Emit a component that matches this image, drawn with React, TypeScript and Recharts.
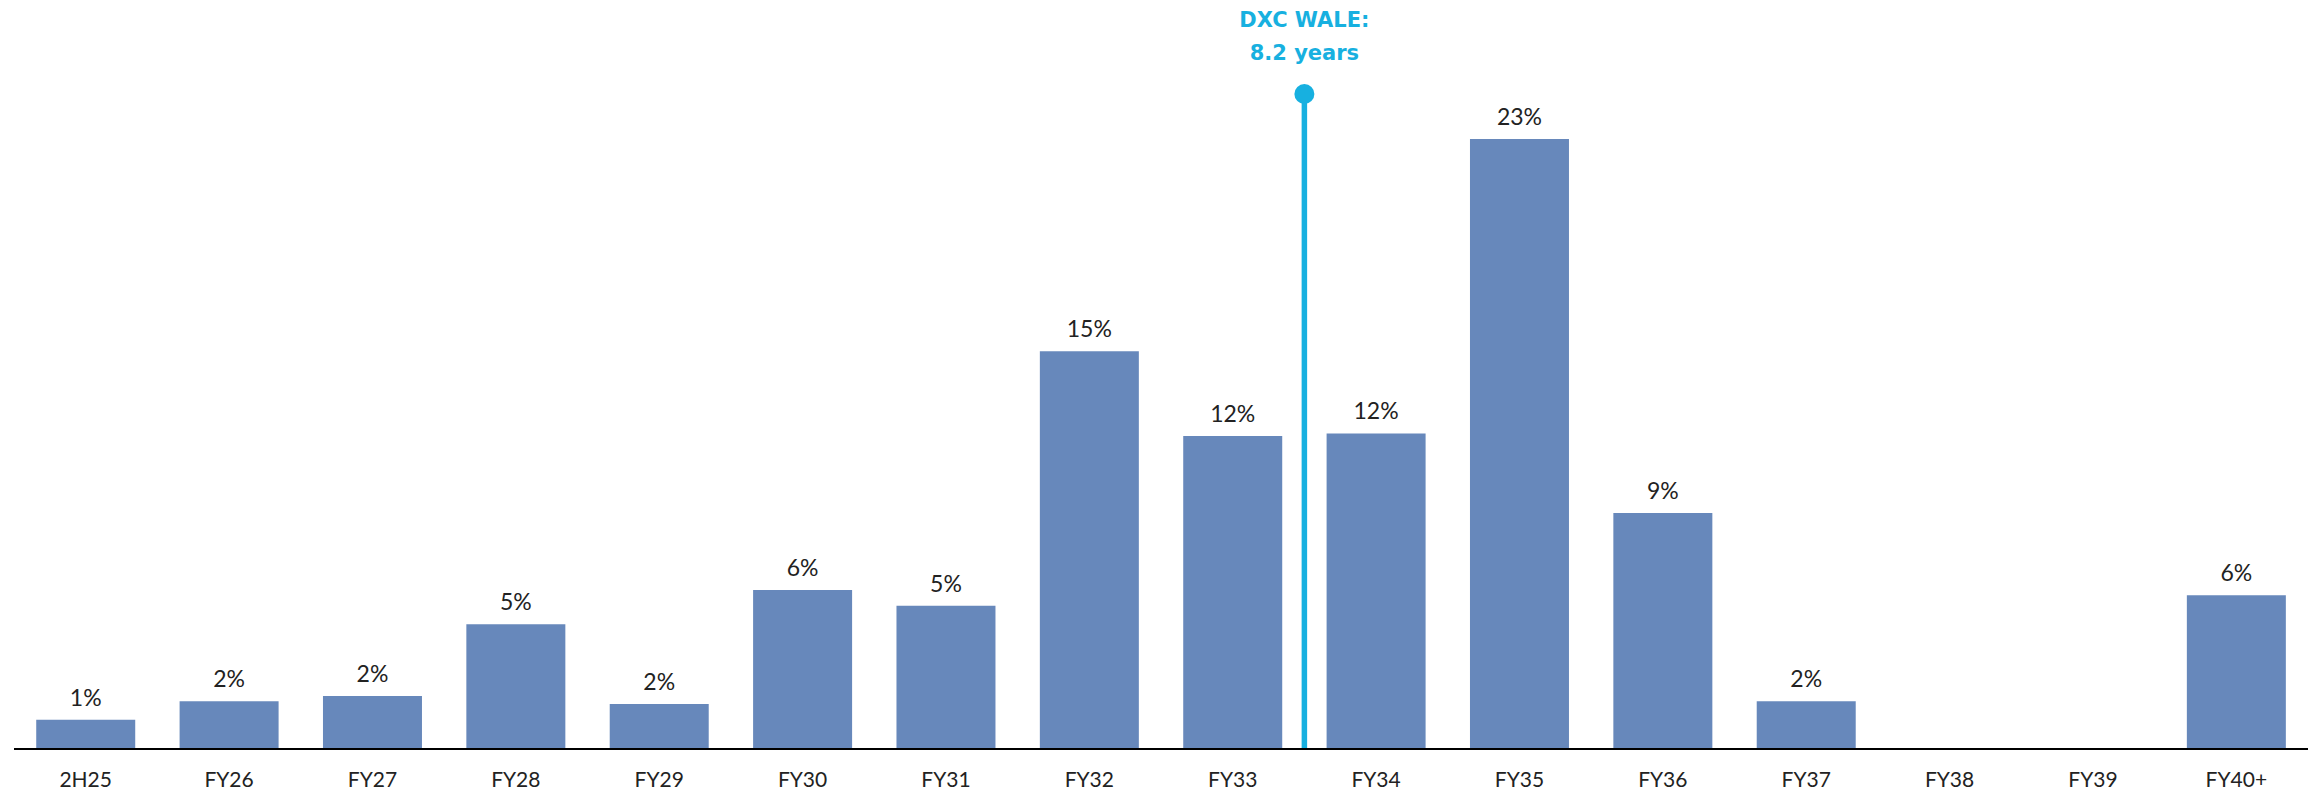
import React from 'react';
import {
  BarChart,
  Bar,
  XAxis,
  YAxis,
  LabelList,
  ReferenceLine,
} from 'recharts';

const categories = [
  '2H25', 'FY26', 'FY27', 'FY28', 'FY29', 'FY30', 'FY31', 'FY32',
  'FY33', 'FY34', 'FY35', 'FY36', 'FY37', 'FY38', 'FY39', 'FY40+',
];
// lease expiry, % of income
const expiries = [1.1, 1.8, 2.0, 4.7, 1.7, 6.0, 5.4, 15.0, 11.8, 11.9, 23.0, 8.9, 1.8, 0, 0, 5.8];

const waleTitle = 'DXC WALE:';
const waleValue = '8.2 years';
const waleCategory = 'FY34'; // line drawn at the start of this band
const waleTop = 24.7;

const BAR_COLOR = '#6788bb';
const WALE_COLOR = '#17b0e0';
const FONT = 'Lato, sans-serif';

const data = categories.map((name, i) => ({ name, value: expiries[i] }));

// dot on top of the WALE line plus the two-line caption above it
const WaleMarker = (props: any) => {
  const { viewBox } = props;
  if (!viewBox) return null;
  const x = viewBox.x;
  const y = viewBox.y;
  const style = { fontFamily: '"DejaVu Sans", sans-serif', fontWeight: 700, fontSize: 21 };
  return (
    <g>
      <circle cx={x} cy={y} r={10} fill={WALE_COLOR} />
      <text x={x} y={y - 67} textAnchor="middle" fill={WALE_COLOR} style={style}>
        {waleTitle}
      </text>
      <text x={x} y={y - 34} textAnchor="middle" fill={WALE_COLOR} style={style}>
        {waleValue}
      </text>
    </g>
  );
};

export default function App() {
  return (
    <div style={{ position: 'absolute', left: 0, top: 0, background: '#fff' }}>
      <BarChart
        width={2318}
        height={793}
        data={data}
        margin={{ top: 94, right: 10, left: 14, bottom: 14 }}
        barCategoryGap="15.5%"
      >
        <XAxis
          dataKey="name"
          height={30}
          axisLine={{ stroke: '#000', strokeWidth: 2 }}
          tickLine={false}
          tickMargin={17}
          interval={0}
          tick={{ fontFamily: FONT, fontSize: 21, fill: '#222' }}
        />
        <YAxis hide domain={[0, waleTop]} allowDataOverflow />
        <Bar dataKey="value" fill={BAR_COLOR} isAnimationActive={false}>
          <LabelList
            dataKey="value"
            position="top"
            offset={14}
            formatter={(v: any) => (v ? `${Math.round(v)}%` : '')}
            style={{ fontFamily: FONT, fontSize: 23, fill: '#222' }}
          />
        </Bar>
        <ReferenceLine
          x={waleCategory}
          position="start"
          stroke={WALE_COLOR}
          strokeWidth={5.5}
          label={<WaleMarker />}
        />
      </BarChart>
    </div>
  );
}
